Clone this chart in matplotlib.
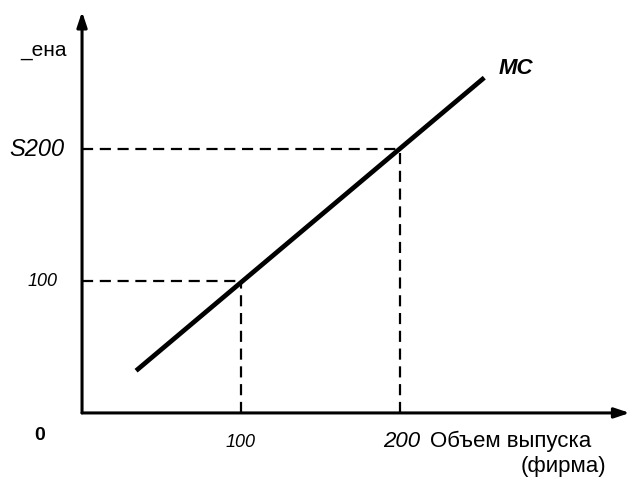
import matplotlib
matplotlib.use("Agg")
import matplotlib.pyplot as plt

# данные графика
mc_q = [34, 253]
mc_p = [32, 254]
marked_q = [100, 200]
marked_p = [100, 200]
p_labels = ["100", "S200"]
q_labels = ["100", "200"]

plt.rcParams['font.family'] = ['Liberation Sans', 'DejaVu Sans']

fig = plt.figure(figsize=(6.31, 4.81), dpi=100)
ax = fig.add_axes([0, 0, 1, 1])
ax.set_xlim(-51.6, 345.3)
ax.set_ylim(-50.8, 313.6)
ax.axis('off')

# оси со стрелками
ax.annotate("", xy=(344.5, 0), xytext=(0, 0),
            arrowprops=dict(arrowstyle='-|>,head_length=0.9,head_width=0.3',
                            lw=2.2, color='black', shrinkA=0, shrinkB=0))
ax.annotate("", xy=(0, 304), xytext=(0, 0),
            arrowprops=dict(arrowstyle='-|>,head_length=0.9,head_width=0.3',
                            lw=2.2, color='black', shrinkA=0, shrinkB=0))

# линия MC
ax.plot(mc_q, mc_p, color='black', lw=3.4, solid_capstyle='butt')
ax.text(262, 262, "MC", fontsize=16, fontweight='bold', style='italic',
        ha='left', va='center')

# пунктир
for q, p in zip(marked_q, marked_p):
    ax.plot([0, q], [p, p], color='black', lw=1.6, dashes=(5, 3))
    ax.plot([q, q], [0, p], color='black', lw=1.6, dashes=(5, 3))

# подписи
ax.text(-39, 275, "_ена", fontsize=15, ha='left', va='center')
ax.text(-45.5, marked_p[1], p_labels[1], fontsize=17, style='italic',
        ha='left', va='center')
ax.text(-34, marked_p[0], p_labels[0], fontsize=13, style='italic',
        ha='left', va='center')
ax.text(-26.4, -16, "0", fontsize=14, fontweight='bold', ha='center', va='center')
ax.text(marked_q[0], -22, q_labels[0], fontsize=13, style='italic',
        ha='center', va='center')
ax.text(189.5, -20.5, q_labels[1], fontsize=16, style='italic',
        ha='left', va='center')
ax.text(219, -20.5, "Объем выпуска", fontsize=16, ha='left', va='center')
ax.text(330, -40, "(фирма)", fontsize=16, ha='right', va='center')

fig.savefig("out.png", dpi=100)
